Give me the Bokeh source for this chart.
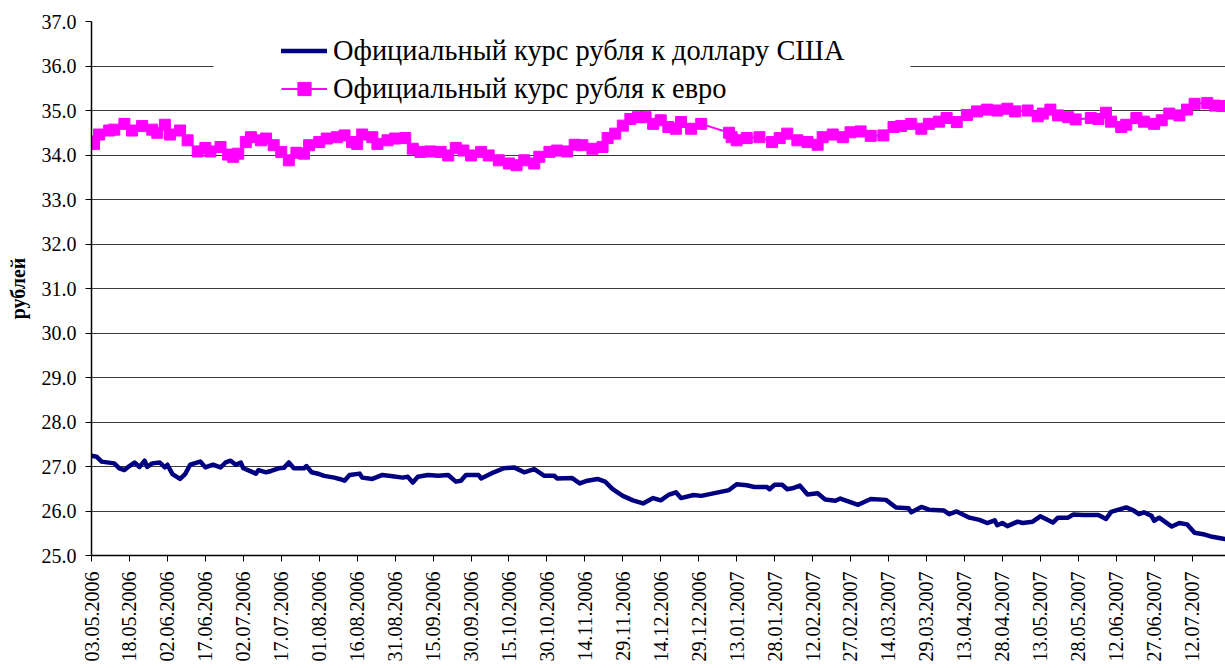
from datetime import datetime
from bokeh.plotting import figure
from bokeh.models import (Range1d, FixedTicker, NumeralTickFormatter, Legend,
                          LegendItem, BoxAnnotation)
from bokeh.embed import file_html
from bokeh.resources import INLINE

# ---------------- data ----------------
tick_labels = [
    "03.05.2006", "18.05.2006", "02.06.2006", "17.06.2006", "02.07.2006",
    "17.07.2006", "01.08.2006", "16.08.2006", "31.08.2006", "15.09.2006",
    "30.09.2006", "15.10.2006", "30.10.2006", "14.11.2006", "29.11.2006",
    "14.12.2006", "29.12.2006", "13.01.2007", "28.01.2007", "12.02.2007",
    "27.02.2007", "14.03.2007", "29.03.2007", "13.04.2007", "28.04.2007",
    "13.05.2007", "28.05.2007", "12.06.2007", "27.06.2007", "12.07.2007",
]
y_ticks = [25, 26, 27, 28, 29, 30, 31, 32, 33, 34, 35, 36, 37]

usd_dates = [
    "03.05.2006", "05.05.2006", "07.05.2006", "12.05.2006", "14.05.2006", "16.05.2006",
    "18.05.2006", "20.05.2006", "22.05.2006", "24.05.2006", "25.05.2006", "27.05.2006",
    "30.05.2006", "01.06.2006", "02.06.2006", "04.06.2006", "07.06.2006", "09.06.2006",
    "11.06.2006", "15.06.2006", "17.06.2006", "20.06.2006", "23.06.2006", "25.06.2006",
    "27.06.2006", "29.06.2006", "01.07.2006", "02.07.2006", "05.07.2006", "07.07.2006",
    "08.07.2006", "11.07.2006", "13.07.2006", "16.07.2006", "18.07.2006", "20.07.2006",
    "22.07.2006", "26.07.2006", "27.07.2006", "29.07.2006", "01.08.2006", "03.08.2006",
    "07.08.2006", "09.08.2006", "11.08.2006", "13.08.2006", "17.08.2006", "18.08.2006",
    "22.08.2006", "26.08.2006", "30.08.2006", "03.09.2006", "05.09.2006", "07.09.2006",
    "09.09.2006", "13.09.2006", "17.09.2006", "21.09.2006", "24.09.2006", "26.09.2006",
    "28.09.2006", "03.10.2006", "04.10.2006", "09.10.2006", "13.10.2006", "17.10.2006",
    "21.10.2006", "25.10.2006", "29.10.2006", "02.11.2006", "03.11.2006", "09.11.2006",
    "12.11.2006", "15.11.2006", "19.11.2006", "22.11.2006", "25.11.2006", "29.11.2006",
    "03.12.2006", "07.12.2006", "11.12.2006", "14.12.2006", "17.12.2006", "20.12.2006",
    "22.12.2006", "27.12.2006", "30.12.2006", "10.01.2007", "13.01.2007", "17.01.2007",
    "20.01.2007", "25.01.2007", "26.01.2007", "28.01.2007", "31.01.2007", "02.02.2007",
    "04.02.2007", "07.02.2007", "10.02.2007", "14.02.2007", "17.02.2007", "21.02.2007",
    "23.02.2007", "02.03.2007", "07.03.2007", "13.03.2007", "17.03.2007", "22.03.2007",
    "23.03.2007", "27.03.2007", "30.03.2007", "05.04.2007", "07.04.2007", "10.04.2007",
    "15.04.2007", "19.04.2007", "22.04.2007", "25.04.2007", "26.04.2007", "28.04.2007",
    "30.04.2007", "04.05.2007", "06.05.2007", "10.05.2007", "13.05.2007", "18.05.2007",
    "20.05.2007", "24.05.2007", "26.05.2007", "30.05.2007", "05.06.2007", "08.06.2007",
    "10.06.2007", "16.06.2007", "19.06.2007", "21.06.2007", "23.06.2007", "26.06.2007",
    "27.06.2007", "29.06.2007", "04.07.2007", "07.07.2007", "10.07.2007", "13.07.2007",
    "17.07.2007", "20.07.2007", "25.07.2007",
]
usd_values = [
    27.24, 27.22, 27.11, 27.07, 26.96, 26.92,
    27.01, 27.09, 26.99, 27.13, 26.99, 27.07,
    27.09, 26.98, 27.04, 26.83, 26.72, 26.83,
    27.04, 27.11, 26.98, 27.04, 26.98, 27.09,
    27.13, 27.04, 27.09, 26.96, 26.89, 26.84,
    26.92, 26.87, 26.90, 26.96, 26.97, 27.09,
    26.96, 26.96, 27.01, 26.87, 26.83, 26.79,
    26.75, 26.72, 26.68, 26.81, 26.84, 26.75,
    26.72, 26.81, 26.78, 26.75, 26.77, 26.64,
    26.77, 26.81, 26.79, 26.81, 26.66, 26.68,
    26.81, 26.81, 26.73, 26.87, 26.96, 26.98,
    26.87, 26.94, 26.79, 26.79, 26.73, 26.74,
    26.62, 26.68, 26.72, 26.66, 26.49, 26.34,
    26.24, 26.17, 26.29, 26.24, 26.36, 26.42,
    26.29, 26.36, 26.34, 26.47, 26.60, 26.58,
    26.54, 26.54, 26.49, 26.59, 26.59, 26.49,
    26.51, 26.57, 26.37, 26.40, 26.26, 26.23,
    26.28, 26.14, 26.27, 26.25, 26.08, 26.06,
    25.97, 26.09, 26.03, 26.01, 25.93, 25.99,
    25.85, 25.80, 25.73, 25.79, 25.68, 25.73,
    25.66, 25.76, 25.73, 25.76, 25.88, 25.74,
    25.85, 25.85, 25.92, 25.91, 25.91, 25.82,
    25.98, 26.08, 26.01, 25.93, 25.97, 25.89,
    25.78, 25.85, 25.65, 25.73, 25.70, 25.51,
    25.47, 25.42, 25.37,
]

eur_dates = [
    "03.05.2006", "04.05.2006", "06.05.2006", "10.05.2006", "12.05.2006", "16.05.2006",
    "19.05.2006", "23.05.2006", "27.05.2006", "29.05.2006", "01.06.2006", "03.06.2006",
    "07.06.2006", "10.06.2006", "14.06.2006", "17.06.2006", "19.06.2006", "23.06.2006",
    "26.06.2006", "28.06.2006", "30.06.2006", "03.07.2006", "05.07.2006", "09.07.2006",
    "11.07.2006", "14.07.2006", "17.07.2006", "20.07.2006", "23.07.2006", "26.07.2006",
    "28.07.2006", "01.08.2006", "04.08.2006", "08.08.2006", "11.08.2006", "14.08.2006",
    "16.08.2006", "18.08.2006", "22.08.2006", "24.08.2006", "28.08.2006", "31.08.2006",
    "04.09.2006", "07.09.2006", "10.09.2006", "14.09.2006", "18.09.2006", "21.09.2006",
    "24.09.2006", "27.09.2006", "30.09.2006", "04.10.2006", "07.10.2006", "11.10.2006",
    "15.10.2006", "18.10.2006", "21.10.2006", "25.10.2006", "27.10.2006", "31.10.2006",
    "03.11.2006", "07.11.2006", "10.11.2006", "13.11.2006", "17.11.2006", "21.11.2006",
    "23.11.2006", "26.11.2006", "29.11.2006", "02.12.2006", "05.12.2006", "08.12.2006",
    "11.12.2006", "14.12.2006", "17.12.2006", "20.12.2006", "22.12.2006", "26.12.2006",
    "30.12.2006", "10.01.2007", "11.01.2007", "13.01.2007", "17.01.2007", "22.01.2007",
    "27.01.2007", "30.01.2007", "02.02.2007", "06.02.2007", "10.02.2007", "14.02.2007",
    "16.02.2007", "20.02.2007", "24.02.2007", "27.02.2007", "03.03.2007", "07.03.2007",
    "12.03.2007", "16.03.2007", "19.03.2007", "23.03.2007", "27.03.2007", "30.03.2007",
    "03.04.2007", "06.04.2007", "10.04.2007", "14.04.2007", "18.04.2007", "22.04.2007",
    "26.04.2007", "30.04.2007", "03.05.2007", "08.05.2007", "12.05.2007", "14.05.2007",
    "17.05.2007", "20.05.2007", "24.05.2007", "27.05.2007", "02.06.2007", "05.06.2007",
    "08.06.2007", "10.06.2007", "14.06.2007", "16.06.2007", "20.06.2007", "23.06.2007",
    "27.06.2007", "30.06.2007", "03.07.2007", "07.07.2007", "10.07.2007", "13.07.2007",
    "18.07.2007", "21.07.2007", "24.07.2007",
]
eur_values = [
    34.30, 34.25, 34.46, 34.55, 34.57, 34.70,
    34.55, 34.65, 34.57, 34.50, 34.68, 34.46,
    34.55, 34.33, 34.08, 34.16, 34.08, 34.18,
    34.01, 33.96, 34.03, 34.29, 34.40, 34.33,
    34.37, 34.22, 34.07, 33.88, 34.05, 34.03,
    34.22, 34.29, 34.37, 34.40, 34.44, 34.29,
    34.25, 34.46, 34.40, 34.25, 34.33, 34.37,
    34.38, 34.14, 34.07, 34.08, 34.07, 33.99,
    34.16, 34.10, 33.99, 34.07, 33.99, 33.88,
    33.81, 33.77, 33.88, 33.81, 33.96, 34.07,
    34.10, 34.08, 34.23, 34.22, 34.14, 34.18,
    34.38, 34.48, 34.66, 34.81, 34.85, 34.85,
    34.70, 34.78, 34.63, 34.59, 34.74, 34.59,
    34.70, 34.50, 34.40, 34.33, 34.38, 34.40,
    34.29, 34.38, 34.48, 34.33, 34.29, 34.23,
    34.40, 34.46, 34.40, 34.51, 34.53, 34.43,
    34.44, 34.63, 34.65, 34.70, 34.59, 34.70,
    34.75, 34.83, 34.74, 34.90, 34.98, 35.02,
    35.00, 35.04, 34.98, 35.00, 34.87, 34.93,
    35.02, 34.89, 34.85, 34.80, 34.83, 34.81,
    34.95, 34.75, 34.63, 34.68, 34.83, 34.75,
    34.70, 34.78, 34.93, 34.89, 35.02, 35.15,
    35.17, 35.11, 35.10,
]

usd_label = "Официальный курс рубля к доллару США"
eur_label = "Официальный курс рубля к евро"
y_title = "рублей"

# ---------------- helpers ----------------
FMT = "%d.%m.%Y"
EPOCH = datetime(1970, 1, 1)
DAY = 86400000.0


def ms(s):
    return (datetime.strptime(s, FMT) - EPOCH).total_seconds() * 1000.0


usd_x = [ms(d) for d in usd_dates]
eur_x = [ms(d) for d in eur_dates]
tick_x = [ms(t) for t in tick_labels]

FRAME_W = 1225 - 91
x0 = tick_x[0]
x1 = x0 + (FRAME_W / 2.53) * DAY

FONT = "'Liberation Serif', 'Times New Roman', serif"

p = figure(width=1225, height=668, output_backend="svg", toolbar_location=None,
           x_range=Range1d(x0, x1), y_range=Range1d(25, 37),
           min_border_left=91, min_border_right=0, min_border_top=21,
           min_border_bottom=113, background_fill_color="white",
           border_fill_color="white")
p.outline_line_color = None

# axes
p.xaxis.ticker = FixedTicker(ticks=tick_x)
p.xaxis.major_label_overrides = {t: lab for t, lab in zip(tick_x, tick_labels)}
p.xaxis.major_label_orientation = 1.5707963
p.xaxis.major_label_text_font = FONT
p.xaxis.major_label_text_font_size = "20px"
p.xaxis.major_label_text_color = "black"
p.xaxis.major_label_standoff = 10
p.xaxis.major_tick_out = 6
p.xaxis.major_tick_in = 0
p.xaxis.minor_tick_out = 0
p.xaxis.minor_tick_in = 0
p.xaxis.axis_line_color = "black"
p.xaxis.axis_line_width = 1.5
p.xaxis.major_tick_line_color = "black"

p.yaxis.ticker = FixedTicker(ticks=y_ticks)
p.yaxis.formatter = NumeralTickFormatter(format="0.0")
p.yaxis.major_label_text_font = FONT
p.yaxis.major_label_text_font_size = "20px"
p.yaxis.major_label_text_color = "black"
p.yaxis.major_label_standoff = 9
p.yaxis.major_tick_out = 6
p.yaxis.major_tick_in = 0
p.yaxis.minor_tick_out = 0
p.yaxis.minor_tick_in = 0
p.yaxis.axis_line_color = "black"
p.yaxis.axis_line_width = 1.5
p.yaxis.major_tick_line_color = "black"
p.yaxis.axis_label = y_title
p.yaxis.axis_label_text_font = FONT
p.yaxis.axis_label_text_font_style = "bold"
p.yaxis.axis_label_text_font_size = "20px"
p.yaxis.axis_label_text_color = "black"
p.yaxis.axis_label_standoff = 10

p.xgrid.visible = False
p.ygrid.ticker = FixedTicker(ticks=y_ticks)
p.ygrid.grid_line_color = "#3a3a3a"
p.ygrid.grid_line_width = 1

# series
usd_r = p.line(usd_x, usd_values, line_color="#000080", line_width=4.5,
               line_join="round", line_cap="round")
eur_l = p.line(eur_x, eur_values, line_color="#FF00FF", line_width=2)
eur_s = p.scatter(eur_x, eur_values, marker="square", size=11,
                  fill_color="#FF00FF", line_color="#FF00FF")

# white legend area covering the grid
box = BoxAnnotation(left=x0 + (122 / FRAME_W) * (x1 - x0),
                    right=x0 + (819 / FRAME_W) * (x1 - x0),
                    top=36.84, bottom=35.06,
                    fill_color="white", fill_alpha=1.0, line_color=None)
p.add_layout(box)

legend = Legend(items=[LegendItem(label=usd_label, renderers=[usd_r]),
                       LegendItem(label=eur_label, renderers=[eur_l, eur_s])],
                location=(190, 450), orientation="vertical")
legend.label_text_font = FONT
legend.label_text_font_size = "28.4px"
legend.label_text_color = "black"
legend.glyph_width = 46
legend.glyph_height = 33
legend.label_height = 33
legend.label_standoff = 6
legend.spacing = 5
legend.padding = 0
legend.margin = 0
legend.border_line_color = None
legend.background_fill_alpha = 0
p.add_layout(legend)

open("out.html", "w").write(file_html(p, INLINE))
